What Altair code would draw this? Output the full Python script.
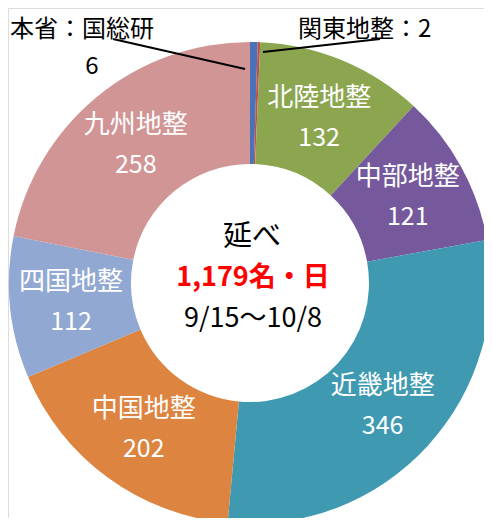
import altair as alt
import pandas as pd

names = ["本省：国総研", "関東地整", "北陸地整", "中部地整", "近畿地整", "中国地整", "四国地整", "九州地整"]
values = [6, 2, 132, 121, 346, 202, 112, 258]
colors = ["#4a72b8", "#c0504d", "#8ba64f", "#75599c", "#3f9ab1", "#dc8440", "#91a8d3", "#d29596"]
inside = [False, False, True, True, True, True, True, True]

df = pd.DataFrame({
    "name": names,
    "value": values,
    "order": list(range(len(names))),
    "label": [n if s else "" for n, s in zip(names, inside)],
    "num": [str(v) if s else "" for v, s in zip(values, inside)],
})

FONT = "Noto Sans CJK JP"
CX, CY = 242, 275
R_OUT, R_IN, R_LAB = 241, 119, 180

theta = alt.Theta("value:Q", stack=True)
order = alt.Order("order:Q")

arc = alt.Chart(df).mark_arc(outerRadius=R_OUT, innerRadius=R_IN, stroke=None).encode(
    theta=theta,
    order=order,
    color=alt.Color("name:N", scale=alt.Scale(domain=names, range=colors), legend=None),
    x=alt.value(CX), y=alt.value(CY),
)

lab1 = alt.Chart(df).mark_text(radius=R_LAB, dy=-19, font=FONT, fontSize=26, color="white").encode(
    theta=theta, order=order, text="label:N", x=alt.value(CX), y=alt.value(CY),
)
lab2 = alt.Chart(df).mark_text(radius=R_LAB, dy=21, font=FONT, fontSize=25, color="white").encode(
    theta=theta, order=order, text="num:N", x=alt.value(CX), y=alt.value(CY),
)

ann_texts = alt.layer(
    alt.Chart(pd.DataFrame({"t": ["本省：国総研"]})).mark_text(
        font=FONT, fontSize=24, color="black", align="left", baseline="alphabetic").encode(
        text="t:N", x=alt.value(2), y=alt.value(29)),
    alt.Chart(pd.DataFrame({"t": ["6"]})).mark_text(
        font=FONT, fontSize=24, color="black", baseline="alphabetic").encode(
        text="t:N", x=alt.value(84), y=alt.value(66)),
    alt.Chart(pd.DataFrame({"t": ["関東地整：2"]})).mark_text(
        font=FONT, fontSize=24, color="black", align="left", baseline="alphabetic").encode(
        text="t:N", x=alt.value(290), y=alt.value(29)),
)
lines = alt.layer(
    alt.Chart(pd.DataFrame({"a": [0]})).mark_rule(color="black", strokeWidth=2).encode(
        x=alt.value(105), y=alt.value(31), x2=alt.value(237), y2=alt.value(61)),
    alt.Chart(pd.DataFrame({"a": [0]})).mark_rule(color="black", strokeWidth=2).encode(
        x=alt.value(255), y=alt.value(44), x2=alt.value(372), y2=alt.value(31)),
)

center = alt.layer(
    alt.Chart(pd.DataFrame({"t": ["延べ"]})).mark_text(font=FONT, fontSize=29, color="black").encode(
        text="t:N", x=alt.value(CX + 2), y=alt.value(229)),
    alt.Chart(pd.DataFrame({"t": ["1,179名・日"]})).mark_text(font=FONT, fontSize=27, fontWeight="bold", color="#ff0000").encode(
        text="t:N", x=alt.value(CX + 3), y=alt.value(270)),
    alt.Chart(pd.DataFrame({"t": ["9/15～10/8"]})).mark_text(font=FONT, fontSize=27, color="black").encode(
        text="t:N", x=alt.value(CX + 3), y=alt.value(311)),
)

chart = alt.layer(arc, lab1, lab2, ann_texts, lines, center).properties(
    width=476, height=510, padding=0, autosize=alt.AutoSizeParams(type="none")
).configure_view(stroke=None).configure(background="white")

chart.save("out.html", embed_options={"renderer": "svg", "actions": False})
